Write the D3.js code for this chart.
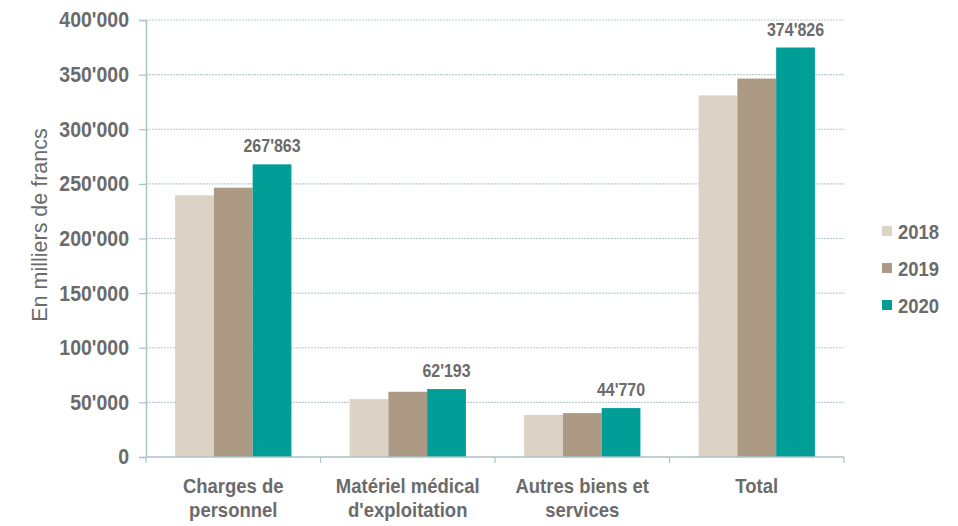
<!DOCTYPE html>
<html><head><meta charset="utf-8">
<script src="https://cdn.jsdelivr.net/npm/d3@7"></script>
<style>body{margin:0;background:#fff}svg{display:block}</style>
</head><body>
<svg id="c" width="958" height="526"></svg>
<script>
const categories = [["Charges de","personnel"],["Matériel médical","d'exploitation"],["Autres biens et","services"],["Total"]];
const years = ["2018","2019","2020"];
const v2018 = [239500, 53000, 38500, 331000];
const v2019 = [246500, 59700, 40200, 346400];
const v2020 = [267863, 62193, 44770, 374826];
const yTicks = [0,50000,100000,150000,200000,250000,300000,350000,400000];
const colors = ["#dcd2c6","#ad9a84","#009e96"];
const series = [v2018, v2019, v2020];

const svg = d3.select("#c");
const L = 146, R = 844, T = 20, B = 457;
const SY = 1.12;
const catIdx = categories.map((d,i)=>i);
const x0 = d3.scaleBand().domain(catIdx).range([L,R]).padding(0);
const x1 = d3.scaleBand().domain(years).range([0,x0.bandwidth()]).paddingInner(0).paddingOuter(0.75);
const y = d3.scaleLinear().domain([0,400000]).range([B,T]);
const fmt = v => d3.format(",")(v).replace(/,/g,"'");
const textCol = "#6b6b6b";
const font = "Liberation Sans, Arial, sans-serif";

// stretched text helper: anchor at (x, yb) baseline
function sText(parent, x, yb, str, size, anchor, weight){
  return parent.append("text").attr("transform",`translate(${x},${yb}) scale(1,${SY})`)
    .attr("text-anchor",anchor).attr("font-family",font).attr("font-weight",weight||"bold")
    .attr("font-size",size).attr("fill",textCol).text(str);
}

// gridlines
svg.append("g").selectAll("line").data(yTicks.filter(d=>d>0)).join("line")
  .attr("x1",L).attr("x2",R).attr("y1",d=>y(d)).attr("y2",d=>y(d))
  .attr("stroke","#b9cbcf").attr("stroke-width",1.2).attr("stroke-dasharray","2,1");

// bars
const g = svg.append("g");
categories.forEach((c,i)=>{
  years.forEach((yr,j)=>{
    g.append("rect").attr("x",x0(i)+x1(yr)).attr("width",x1.bandwidth())
      .attr("y",y(series[j][i])).attr("height",B-y(series[j][i])).attr("fill",colors[j]);
  });
  sText(g, x0(i)+x1("2020")+x1.bandwidth()/2, y(v2020[i])-12, fmt(v2020[i]), 16, "middle");
});

// y axis
const ya = d3.axisLeft(y).tickValues(yTicks).tickFormat(fmt).tickSize(7).tickPadding(10);
const yg = svg.append("g").attr("transform",`translate(${L},0)`).call(ya);
yg.select(".domain").attr("stroke","#a9c3c7").attr("stroke-width",1.5);
yg.selectAll(".tick line").attr("stroke","#a9c3c7").attr("stroke-width",1.2);
yg.selectAll(".tick text").attr("font-family",font).attr("font-weight","bold").attr("font-size",19.5)
  .attr("fill",textCol).attr("transform",`scale(1,${SY})`);

// x axis
const xa = svg.append("g");
xa.append("line").attr("x1",L).attr("x2",R).attr("y1",B).attr("y2",B).attr("stroke","#a9c3c7").attr("stroke-width",1.5);
const bounds = catIdx.map(i=>x0(i)).concat([R]);
xa.selectAll("line.t").data(bounds).join("line").attr("class","t")
  .attr("x1",d=>d).attr("x2",d=>d).attr("y1",B).attr("y2",B+6).attr("stroke","#a9c3c7").attr("stroke-width",1.2);
categories.forEach((c,i)=>{
  c.forEach((line,k)=>{
    sText(xa, x0(i)+x0.bandwidth()/2, 493+k*24, line, 18.5, "middle");
  });
});

// y title
svg.append("text").attr("transform","translate(47,225) rotate(-90) scale(1.0,1.05)").attr("text-anchor","middle")
  .attr("font-family",font).attr("font-size",21.5).attr("fill",textCol).text("En milliers de francs");

// legend
const lg = svg.append("g");
years.forEach((yr,j)=>{
  const cy = [231,268,305][j];
  lg.append("rect").attr("x",882).attr("y",cy-5).attr("width",10).attr("height",10).attr("fill",colors[j]);
  sText(lg, 898, cy+7.5, yr, 18.5, "start");
});
</script>
</body></html>
